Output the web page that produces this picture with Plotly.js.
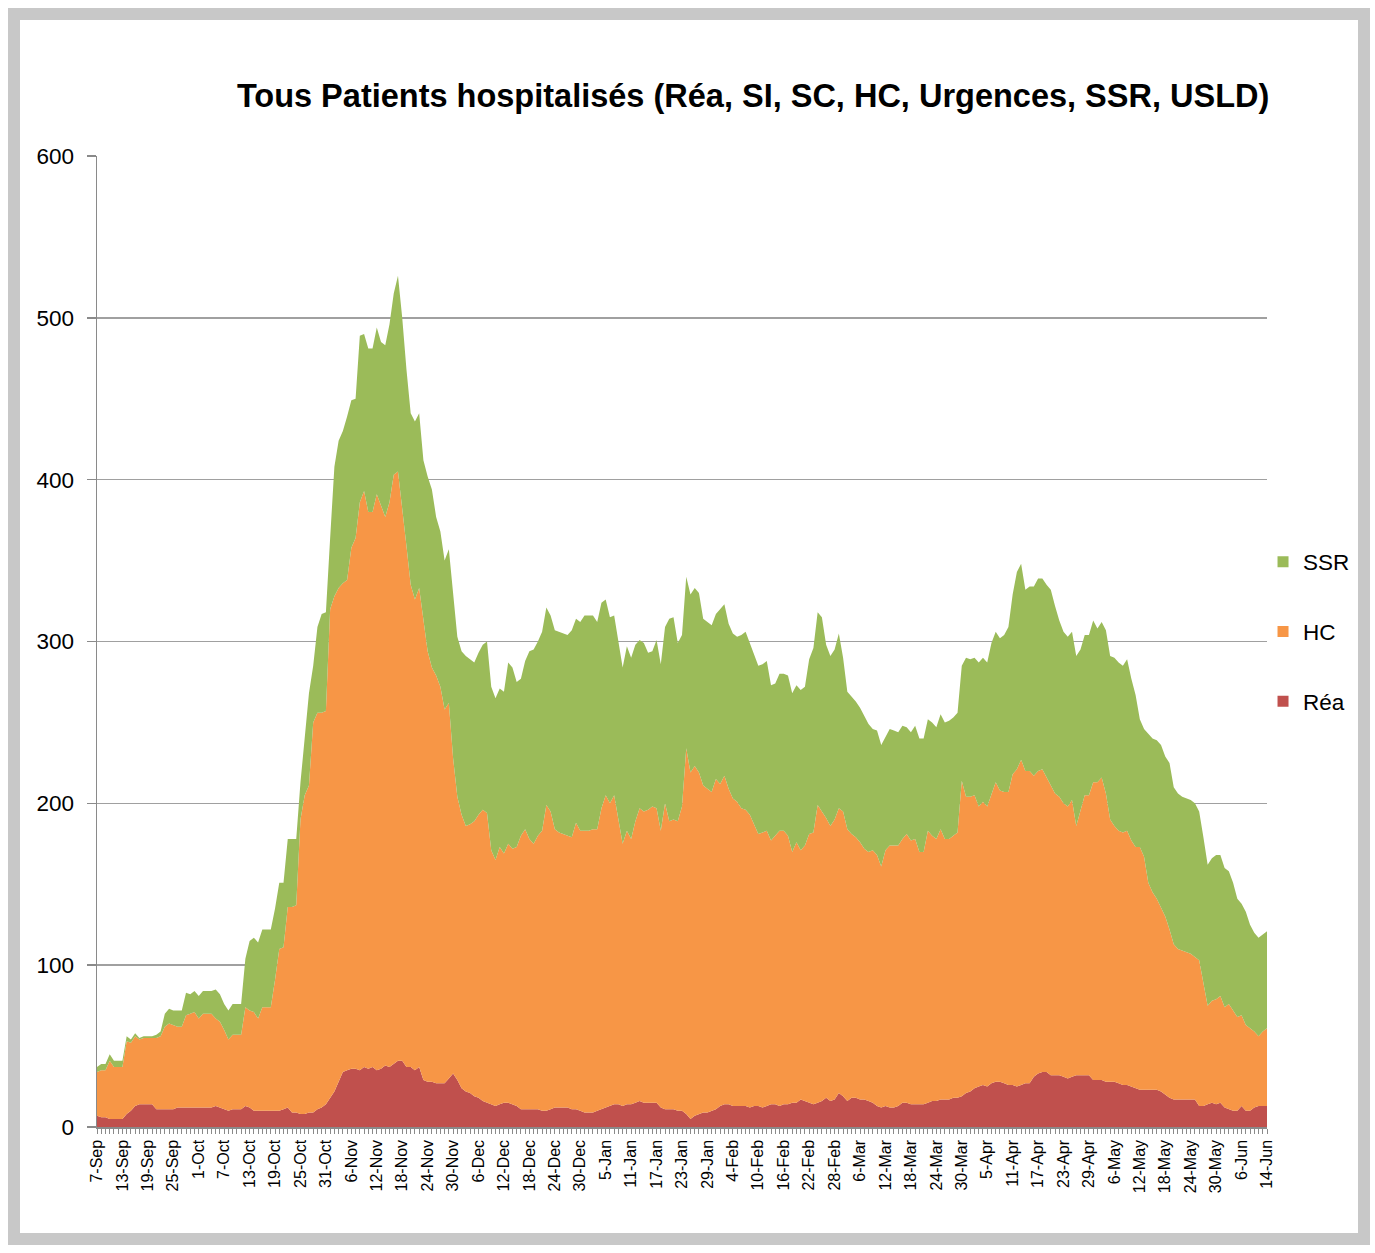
<!DOCTYPE html>
<html>
<head>
<meta charset="utf-8">
<script src="https://cdn.plot.ly/plotly-3.0.1.min.js"></script>
<style>
  html, body { margin: 0; padding: 0; background: #ffffff; }
  #frame { position: absolute; left: 8px; top: 8px; width: 1362px; height: 1237px;
           box-sizing: border-box; border: 12px solid #c8c8c8; background: #ffffff; }
  #chart { position: absolute; left: 0; top: 0; width: 1375px; height: 1253px; }
</style>
</head>
<body>
<div id="frame"></div>
<div id="chart"></div>
<script>
// Tick labels (one every 6 data points)
const tickLabels = ['7-Sep','13-Sep','19-Sep','25-Sep','1-Oct','7-Oct','13-Oct','19-Oct','25-Oct','31-Oct',
  '6-Nov','12-Nov','18-Nov','24-Nov','30-Nov','6-Dec','12-Dec','18-Dec','24-Dec','30-Dec',
  '5-Jan','11-Jan','17-Jan','23-Jan','29-Jan','4-Feb','10-Feb','16-Feb','22-Feb','28-Feb',
  '6-Mar','12-Mar','18-Mar','24-Mar','30-Mar','5-Apr','11-Apr','17-Apr','23-Apr','29-Apr',
  '6-May','12-May','18-May','24-May','30-May','6-Jun','14-Jun'];

// Series values (daily)
const rea = [
  7,6,6,5,5,5,5,8,10,13,
  14,14,14,14,11,11,11,11,11,12,
  12,12,12,12,12,12,12,12,13,12,
  11,10,11,11,11,13,12,10,10,10,
  10,10,10,10,11,12,9,9,8,8,
  9,9,11,12,14,18,22,28,34,35,
  36,36,35,37,36,37,35,36,38,37,
  39,41,41,37,37,35,37,29,28,28,
  27,27,27,30,33,29,24,22,21,19,
  18,16,15,14,13,14,15,15,14,13,
  11,11,11,11,11,10,10,11,12,12,
  12,12,11,11,10,9,9,9,10,11,
  12,13,14,14,13,14,14,15,16,15,
  15,15,15,12,11,11,11,10,10,8,
  5,7,8,9,9,10,11,13,14,14,
  13,13,13,13,12,13,13,12,13,14,
  14,13,14,14,15,15,17,16,15,14,
  15,16,18,16,17,21,19,16,18,18,
  17,17,16,15,13,12,13,12,12,13,
  15,15,14,14,14,14,15,16,16,17,
  17,17,18,18,19,21,22,24,25,26,
  25,27,28,28,27,26,26,25,26,27,
  27,31,33,34,34,32,32,32,31,30,
  31,32,32,32,32,29,29,29,28,28,
  28,27,26,26,25,24,23,23,23,23,
  23,22,20,18,17,17,17,17,17,17,
  13,13,14,15,14,15,12,11,10,10,
  13,10,10,12,13,13,13];

const hc = [
  27,29,29,36,32,32,32,45,42,43,
  40,41,41,41,44,45,51,53,52,50,
  50,57,58,59,55,58,58,58,54,53,
  49,44,46,46,46,61,60,61,57,64,
  64,64,81,100,100,124,127,128,182,197,
  202,241,245,244,243,302,306,305,302,303,
  322,328,351,356,344,343,356,348,339,349,
  364,364,342,322,298,291,296,285,266,256,
  252,245,231,232,195,175,169,164,166,170,
  175,180,179,157,152,159,154,160,158,160,
  169,173,167,164,169,173,189,184,172,170,
  169,168,168,177,173,174,174,175,174,186,
  193,187,191,176,162,169,164,174,181,180,
  181,183,182,171,189,178,179,179,188,226,
  214,216,211,202,200,197,204,199,203,195,
  190,188,184,183,181,174,168,170,170,163,
  166,170,169,166,155,161,154,158,166,168,
  184,179,173,170,173,176,176,168,163,161,
  159,155,154,156,155,149,158,162,162,161,
  163,166,163,164,156,156,168,164,162,167,
  161,161,162,164,195,183,182,181,173,175,
  173,179,185,180,180,181,192,196,201,193,
  193,186,187,187,182,179,174,172,169,168,
  171,154,164,173,173,184,184,187,178,162,
  158,156,156,157,152,149,150,144,128,122,
  118,113,110,104,96,93,92,91,90,88,
  90,76,61,63,65,66,62,65,62,58,
  56,53,51,47,43,46,48];

const ssr = [
  3,4,4,4,4,4,4,3,2,2,
  1,1,1,1,2,3,8,9,9,10,
  10,14,12,13,14,14,14,14,18,17,
  16,18,19,19,19,30,43,46,47,48,
  48,48,44,41,40,42,42,41,23,35,
  57,35,53,61,61,44,80,91,94,101,
  91,86,103,97,101,101,103,101,106,110,
  112,121,117,109,106,110,108,98,108,110,
  98,96,92,95,102,99,101,105,102,98,
  100,102,106,101,100,98,100,112,112,102,
  97,104,116,120,120,123,122,121,123,124,
  124,124,128,126,129,133,133,132,128,127,
  121,115,111,111,109,114,112,109,104,104,
  97,96,104,103,109,125,125,110,106,106,
  110,110,111,103,103,103,102,108,106,102,
  102,102,107,110,106,104,104,104,105,96,
  94,97,97,99,98,97,99,98,108,114,
  119,120,107,105,105,108,95,85,85,84,
  83,82,79,75,77,75,70,72,71,70,
  70,66,67,70,70,70,69,70,69,71,
  72,73,73,74,71,86,85,85,89,89,
  89,93,93,94,97,102,111,122,121,112,
  114,117,119,118,119,121,116,109,106,105,
  104,105,99,99,99,100,95,96,101,101,
  104,104,103,106,100,94,79,79,92,95,
  98,101,99,103,97,96,95,95,95,95,
  92,90,87,88,89,87,86,82,79,73,
  69,70,64,61,61,60,60];

const seriesNames = ['Réa', 'HC', 'SSR'];
const seriesColors = ['#c0504d', '#f79646', '#9bbb59'];
const seriesValues = [rea, hc, ssr];

const n = rea.length;
const xIdx = Array.from({length: n}, (_, i) => i);
const tickVals = tickLabels.map((_, k) => k * 6);

const traces = [];
seriesValues.forEach((vals, k) => {
  traces.push({
    x: xIdx, y: vals, type: 'scatter', mode: 'lines',
    stackgroup: 'one', name: seriesNames[k],
    line: {width: 0, color: seriesColors[k]},
    fillcolor: seriesColors[k], showlegend: false, hoverinfo: 'y+name'
  });
});
// legend entries (square swatches, like the original), top entry = top of the stack
seriesValues.forEach((vals, k) => {
  traces.push({
    x: [null], y: [null], type: 'scatter', mode: 'markers',
    name: seriesNames[k], legendgroup: 'g' + k, legendrank: 10 - k,
    marker: {symbol: 'square', size: 11, color: seriesColors[k]},
    showlegend: true, hoverinfo: 'skip'
  });
});

const layout = {
  width: 1375, height: 1253,
  paper_bgcolor: 'rgba(0,0,0,0)', plot_bgcolor: 'rgba(0,0,0,0)',
  margin: {l: 97, r: 108, t: 156, b: 126},
  font: {family: 'Liberation Sans, Arial, sans-serif', color: '#000000'},
  title: {
    text: 'Tous Patients hospitalisés (Réa, SI, SC, HC, Urgences, SSR, USLD)',
    font: {size: 32.5, family: 'Liberation Sans, Arial, sans-serif', color: '#000000', weight: 'bold'},
    xref: 'container', yref: 'container', x: 0.5477, xanchor: 'center', y: 0.9234, yanchor: 'middle'
  },
  xaxis: {
    range: [0, n - 1], tickmode: 'array', tickvals: tickVals, ticktext: tickLabels,
    tickangle: -90, tickfont: {size: 16, color: '#000000'},
    showgrid: false, zeroline: false, showline: true, linecolor: '#8a8a8a', linewidth: 1.5,
    ticks: 'outside', ticklen: 5, tickcolor: '#8a8a8a', tickwidth: 1,
    minor: {tickmode: 'linear', tick0: 0, dtick: 1, ticks: 'outside', ticklen: 5, tickcolor: '#8a8a8a', tickwidth: 1, showgrid: false}
  },
  yaxis: {
    range: [0, 600], dtick: 100, tick0: 0,
    tickfont: {size: 22.5, color: '#000000'},
    showgrid: true, gridcolor: '#a0a0a0', gridwidth: 1.5, zeroline: false,
    showline: true, linecolor: '#8a8a8a', linewidth: 1.5,
    ticks: 'outside', ticklen: 9, tickcolor: '#8a8a8a', tickwidth: 1.5,
    ticklabelstandoff: 8
  },
  showlegend: true,
  legend: {
    x: 0.9966, xanchor: 'left', y: 0.604, yanchor: 'top',
    traceorder: 'grouped', tracegroupgap: 37.5,
    font: {size: 22.5, color: '#000000'}, bgcolor: 'rgba(0,0,0,0)', borderwidth: 0
  },
  hovermode: 'closest'
};

Plotly.newPlot('chart', traces, layout, {displayModeBar: false, staticPlot: true});
</script>
</body>
</html>
